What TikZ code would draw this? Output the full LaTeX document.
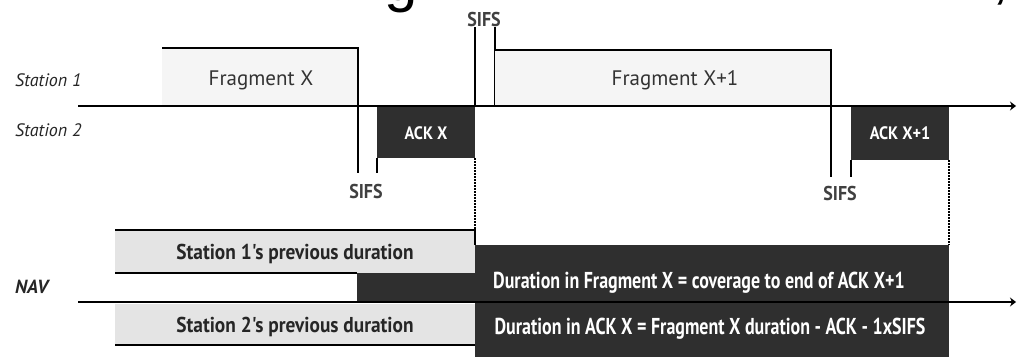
\documentclass[tikz,border=0pt]{standalone}
\usepackage{fontspec}
\setmainfont{PT Sans}
\newfontfamily\condA[FakeStretch=0.78]{PT Sans}
\newfontfamily\condB[FakeStretch=0.9]{PT Sans}
\newfontfamily\titlefont{Liberation Sans}
\usetikzlibrary{arrows.meta}
\definecolor{darkfill}{HTML}{2F2F2F}
\definecolor{lightfill}{HTML}{F5F5F5}
\definecolor{navfill}{HTML}{E4E4E4}
\definecolor{inkgray}{HTML}{333333}
\begin{document}
\begin{tikzpicture}[x=1pt,y=-1pt,
  axis/.style={line width=1.8pt,-{Stealth[length=6pt,width=9pt]}},
  edge/.style={line width=1.2pt},
  dots/.style={line width=1.6pt,dash pattern=on 1.5pt off 1.5pt},
  stlabel/.style={font=\itshape\fontsize{18}{18}\selectfont,anchor=west,inner sep=0pt,text=black!85},
  boxtext/.style={font=\fontsize{21}{21}\selectfont,inner sep=0pt,text=inkgray},
  acktext/.style={font=\condB\bfseries\fontsize{18}{18}\selectfont,inner sep=0pt,text=white},
  sifstext/.style={font=\condB\bfseries\fontsize{20}{20}\selectfont,inner sep=0pt,text=black!75},
  navtext/.style={font=\condB\bfseries\fontsize{21.5}{21.5}\selectfont,inner sep=0pt,text=black!85},
  durtext/.style={font=\condA\bfseries\fontsize{23}{23}\selectfont,inner sep=0pt,text=white}]
\useasboundingbox (0,0) rectangle (1019,356);
% cropped title remains
\node[font=\titlefont\fontsize{60}{60}\selectfont,anchor=base,inner sep=0pt] (tg) at (401,0) {g};
\node[font=\titlefont\fontsize{60}{60}\selectfont,anchor=base,inner sep=0pt] (tc) at (1001,-2) {,};
% ---------- stations ----------
\node[stlabel] (st1) at (15,80) {Station 1};
\node[stlabel] (st2) at (15,130) {Station 2};
% Fragment X
\fill[lightfill] (162,48) rectangle (358,106);
\draw[edge] (162,48) -- (358,48) -- (358,173);
\node[boxtext] (fx) at (261,80) {Fragment X};
% ACK X
\fill[darkfill] (377,106) rectangle (475,158);
\draw[edge] (377,158) -- (377,173);
\node[acktext] (ackx) at (426,133) {ACK X};
\draw[dots] (475,158) -- (475,230);
% top SIFS
\draw[edge] (475,27) -- (475,106);
\draw[edge] (495,27) -- (495,106);
\node[sifstext] (sifsA) at (484,19) {SIFS};
% Fragment X+1
\fill[lightfill] (495,50) rectangle (831,106);
\draw[edge] (495,50) -- (831,50) -- (831,177);
\node[boxtext] (fx1) at (675,80) {Fragment X+1};
% ACK X+1
\fill[darkfill] (851,106) rectangle (949,160);
\draw[edge] (851,160) -- (851,177);
\node[acktext] (ackx1) at (900,133) {ACK X+1};
\draw[dots] (949,160) -- (949,245);
% lower SIFS labels
\node[sifstext] (sifsB) at (366,191) {SIFS};
\node[sifstext] (sifsC) at (840,193) {SIFS};
\coordinate (l1s) at (78,106);
\coordinate (l1e) at (1016,106);
\draw[axis] (l1s) -- (l1e);
% ---------- NAV ----------
\node[stlabel,font=\bfseries\itshape\fontsize{19}{19}\selectfont] (nav) at (15,287) {NAV};
\fill[navfill] (115,230) rectangle (475,273);
\draw[edge] (115,230) -- (475,230) -- (475,245);
\draw[edge] (115,273) -- (357,273);
\fill[darkfill] (357,273) rectangle (475,302);
\fill[darkfill] (475,245) rectangle (949,360);
\fill[navfill] (115,304) rectangle (475,345);
\draw[edge] (115,345) -- (475,345);
\coordinate (l2s) at (78,302);
\coordinate (l2e) at (1016,302);
\draw[axis] (l2s) -- (l2e);
\node[navtext] (s1p) at (295,254) {Station 1's previous duration};
\node[navtext] (s2p) at (295,327) {Station 2's previous duration};
\node[durtext] (d1) at (699,283) {Duration in Fragment X = coverage to end of ACK X+1};
\node[durtext] (d2) at (710,329) {Duration in ACK X = Fragment X duration - ACK - 1xSIFS};
\end{tikzpicture}
\end{document}
